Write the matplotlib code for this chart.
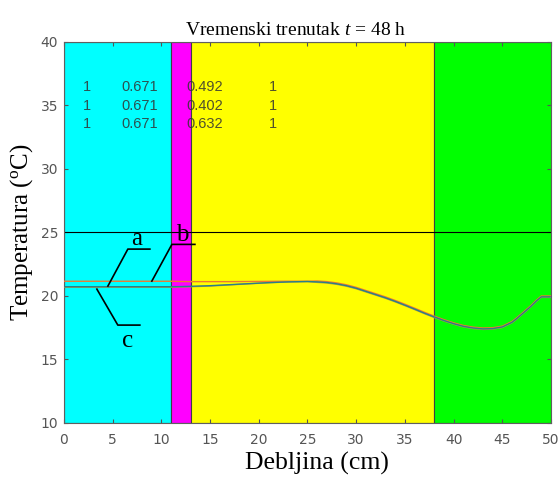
import matplotlib.pyplot as plt
import numpy as np

plt.rcParams['mathtext.fontset'] = 'custom'
plt.rcParams['mathtext.rm'] = 'Liberation Serif'
plt.rcParams['mathtext.it'] = 'Liberation Serif:italic'

# layers of the wall (cm) and their colours
layer_edges = [0, 11, 13, 38, 50]
layer_colors = ['#00ffff', '#ff00ff', '#ffff00', '#00ff00']

# temperature profiles at t = 48 h
x = [0, 2, 4, 6, 8, 10, 11, 12, 13, 15, 17, 19, 21, 23, 25,
     26, 27, 28, 29, 30, 31, 32, 33, 34, 35, 36, 37, 38, 39, 40, 41, 42,
     43, 44, 45, 46, 46.5, 47, 47.5, 48, 48.5, 49, 50]
tail = [21.1, 21.05, 20.95, 20.8, 20.6, 20.35, 20.1, 19.85, 19.57, 19.27,
        18.96, 18.64, 18.34, 18.06, 17.81, 17.6, 17.47, 17.4, 17.42, 17.55,
        17.92, 18.22, 18.55, 18.88, 19.22, 19.6, 19.92, 19.92]
temp_a = [20.72, 20.72, 20.72, 20.72, 20.72, 20.72, 20.72, 20.73, 20.75, 20.8,
          20.88, 20.96, 21.04, 21.1, 21.13] + tail
temp_b = [21.15, 21.15, 21.15, 21.15, 21.15, 21.15, 21.15, 21.13, 21.12, 21.12,
          21.12, 21.13, 21.14, 21.15, 21.15] + [t + 0.07 for t in tail]
temp_c = [20.68, 20.68, 20.68, 20.68, 20.68, 20.68, 20.68, 20.7, 20.72, 20.77,
          20.86, 20.95, 21.03, 21.09, 21.12] + [t - 0.04 for t in tail]
ref_temp = 25

# parameters printed inside the plot
param_rows = [['1', '0.671', '0.492', '1'],
              ['1', '0.671', '0.402', '1'],
              ['1', '0.671', '0.632', '1']]
param_x = [2.4, 7.75, 14.5, 21.5]
param_y = [36.4, 34.9, 33.5]

fig = plt.figure(figsize=(5.6, 4.79), dpi=100)
ax = fig.add_axes([0.114, 0.117, 0.87, 0.796])

for i, c in enumerate(layer_colors):
    ax.axvspan(layer_edges[i], layer_edges[i + 1], facecolor=c,
               edgecolor='#404040', linewidth=0.8, zorder=0)

ax.axhline(ref_temp, color='black', linewidth=0.8, zorder=2)
ax.plot(x, temp_c, color='#b0a040', linewidth=1.0, zorder=3)
ax.plot(x, temp_b, color='#f07830', linewidth=1.0, zorder=3)
ax.plot(x, temp_a, color='#2a7f8a', linewidth=1.0, zorder=3)

for row, yy in zip(param_rows, param_y):
    for txt, xx in zip(row, param_x):
        ax.text(xx, yy, txt, ha='center', va='center', fontsize=10.5,
                color='#333333', alpha=0.85, family='Liberation Sans')

# labels a, b, c with leader lines
serif = 'Liberation Serif'
ax.plot([4.52, 6.57, 8.83], [20.77, 23.68, 23.68], color='black', lw=1.2, zorder=4)
ax.text(7.5, 23.6, 'a', fontsize=18, family=serif, ha='center', va='bottom')
ax.plot([9.03, 11.09, 13.45], [21.16, 24.05, 24.05], color='black', lw=1.2, zorder=4)
ax.text(12.2, 23.95, 'b', fontsize=18, family=serif, ha='center', va='bottom')
ax.plot([3.39, 5.54, 7.8], [20.53, 17.7, 17.7], color='black', lw=1.2, zorder=4)
ax.text(6.5, 17.3, 'c', fontsize=18, family=serif, ha='center', va='top')

ax.set_xlim(0, 50)
ax.set_ylim(10, 40)
ax.set_xticks(range(0, 51, 5))
ax.set_yticks(range(10, 41, 5))
ax.tick_params(direction='in', length=3, labelsize=10, colors='#555555',
               top=True, right=True)
ax.tick_params(axis='x', pad=7)
ax.tick_params(axis='y', pad=4)
for s in ax.spines.values():
    s.set_color('#606060')
    s.set_linewidth(0.8)

title = ax.set_title('Vremenski trenutak $t$ = 48 h', fontsize=14, family=serif, pad=5)
title.set_x(0.475)
ax.set_xlabel('Debljina (cm)', fontsize=18.5, family=serif, labelpad=3)
ax.xaxis.set_label_coords(0.52, -0.075)
ax.set_ylabel('Temperatura ($^{\\rm o}$C)', fontsize=18, family=serif, labelpad=4)

fig.savefig('out.png', dpi=100)
